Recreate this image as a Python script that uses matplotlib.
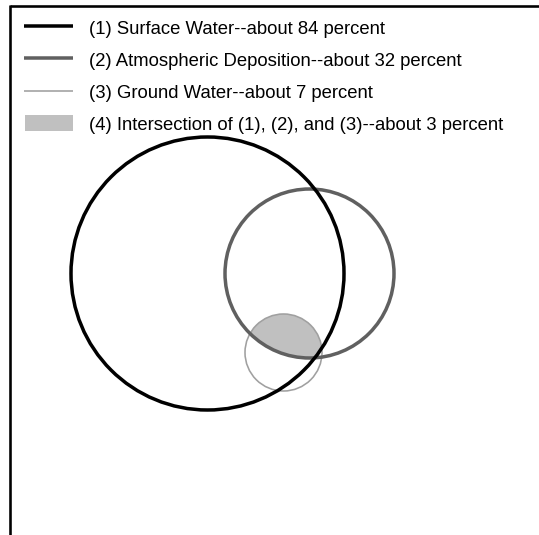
import numpy as np
import matplotlib
matplotlib.use("Agg")
import matplotlib.pyplot as plt
from matplotlib.patches import Circle, Polygon, Rectangle

plt.rcParams['font.family'] = ['Liberation Sans', 'DejaVu Sans']

# Data
labels = ["(1) Surface Water--about 84 percent",
          "(2) Atmospheric Deposition--about 32 percent",
          "(3) Ground Water--about 7 percent",
          "(4) Intersection of (1), (2), and (3)--about 3 percent"]
percents = [84, 32, 7, 3]

# Geometry (pixel space)
centers_x = [207.5, 309.5, 283.5]
centers_y = [273.5, 273.5, 352.5]
radii = [136.5, 84.5, 38.5]
colors = ["#000000", "#606060", "#a0a0a0"]
widths_px = [3.5, 3.5, 1.6]
fill_color = "#c0c0c0"

W, H = 539, 535
fig = plt.figure(figsize=(W / 100, H / 100), dpi=100)
ax = fig.add_axes([0, 0, 1, 1])
ax.set_xlim(0, W)
ax.set_ylim(H, 0)
ax.axis('off')
pt = 0.72

# Border (top and left)
ax.plot([10, W], [6, 6], color='black', lw=2.6 * pt, solid_capstyle='butt')
ax.plot([10, 10], [5, H], color='black', lw=2.6 * pt, solid_capstyle='butt')

# Intersection region of all three circles
pts = []
for i in range(3):
    th = np.linspace(0, 2 * np.pi, 2000)
    px = centers_x[i] + radii[i] * np.cos(th)
    py = centers_y[i] + radii[i] * np.sin(th)
    mask = np.ones_like(px, dtype=bool)
    for j in range(3):
        if j == i:
            continue
        mask &= (px - centers_x[j]) ** 2 + (py - centers_y[j]) ** 2 <= radii[j] ** 2 + 1e-6
    pts.append(np.column_stack([px[mask], py[mask]]))
pts = np.vstack(pts)
cxm, cym = pts.mean(axis=0)
order = np.argsort(np.arctan2(pts[:, 1] - cym, pts[:, 0] - cxm))
ax.add_patch(Polygon(pts[order], closed=True, facecolor=fill_color, edgecolor='none'))

# Circles
for i in [2, 1, 0]:
    ax.add_patch(Circle((centers_x[i], centers_y[i]), radii[i], fill=False,
                        edgecolor=colors[i], lw=widths_px[i] * pt))

# Legend
row_y = [26, 58, 91, 123]
for k in range(3):
    ax.plot([24, 73], [row_y[k], row_y[k]], color=colors[k], lw=widths_px[k] * pt,
            solid_capstyle='butt')
ax.add_patch(Rectangle((25, row_y[3] - 8), 48, 16, facecolor=fill_color, edgecolor='none'))
for k in range(4):
    ax.text(89, row_y[k] + 7.5, labels[k], fontsize=13.3, va='baseline', ha='left',
            color='black')

fig.savefig("out.png", dpi=100)
